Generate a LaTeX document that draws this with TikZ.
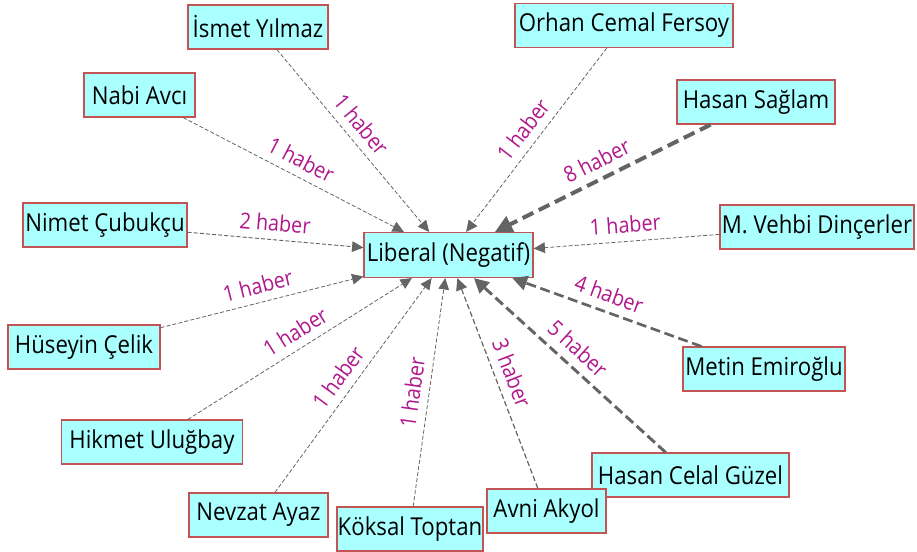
\documentclass[tikz,border=0pt]{standalone}
\usepackage{fontspec}
\setmainfont{Open Sans}[FakeStretch=0.9]
\usetikzlibrary{arrows.meta}
\definecolor{boxfill}{RGB}{170,255,255}
\definecolor{boxline}{RGB}{196,84,84}
\definecolor{edgegrey}{RGB}{100,100,100}
\definecolor{lblmag}{RGB}{176,24,140}
\begin{document}
\begin{tikzpicture}[x=0.75pt,y=-0.75pt,
  person/.style={draw=boxline, line width=0.9pt, fill=boxfill, inner sep=0pt,
    minimum height=33pt, font=\fontsize{18.5}{20}\selectfont, text=black},
  link/.style={draw=edgegrey},
  e1/.style={link, line width=0.6pt, dash pattern=on 3pt off 1.6pt,
    -{Triangle[length=8.5pt,width=8pt]}},
  e2/.style={link, line width=0.7pt, dash pattern=on 3pt off 1.6pt,
    -{Triangle[length=8.5pt,width=8pt]}},
  e3/.style={link, line width=0.9pt, dash pattern=on 4pt off 2pt,
    -{Triangle[length=9pt,width=8.5pt]}},
  e4/.style={link, line width=2pt, dash pattern=on 7.5pt off 3.5pt,
    -{Triangle[length=11pt,width=11pt]}},
  e5/.style={link, line width=2.2pt, dash pattern=on 7.5pt off 3.5pt,
    -{Triangle[length=11pt,width=11pt]}},
  e8/.style={link, line width=3pt, dash pattern=on 9pt off 4.5pt,
    -{Triangle[length=13pt,width=13pt]}},
  lbl/.style={text=lblmag, font=\fontsize{16.5}{17}\selectfont, sloped,
    above=4.5pt, inner sep=1.5pt}
]
\useasboundingbox (0,0) rectangle (917,551);

% centre node
\node[person, minimum width=126.75pt, minimum height=33.75pt] (lib) at (448.5,255) {Liberal (Negatif)};

% surrounding people
\node[person, minimum width=105pt]    (ismet)   at (258,27)    {İsmet Yılmaz};
\node[person, minimum width=163.5pt]  (orhan)   at (624,25.5)  {Orhan Cemal Fersoy};
\node[person, minimum width=83.25pt]  (nabi)    at (139.5,95)  {Nabi Avcı};
\node[person, minimum width=118.5pt]  (saglam)  at (756,102)   {Hasan Sağlam};
\node[person, minimum width=123pt]    (nimet)   at (105,225)   {Nimet Çubukçu};
\node[person, minimum width=145.5pt]  (vehbi)   at (817,227)   {M. Vehbi Dinçerler};
\node[person, minimum width=114pt]    (huseyin) at (84,347)    {Hüseyin Çelik};
\node[person, minimum width=121.5pt]  (metin)   at (764,369)   {Metin Emiroğlu};
\node[person, minimum width=135.75pt] (hikmet)  at (152,442)   {Hikmet Uluğbay};
\node[person, minimum width=147.75pt] (celal)   at (690.5,475) {Hasan Celal Güzel};
\node[person, minimum width=89.25pt]  (avni)    at (546.5,511) {Avni Akyol};
\node[person, minimum width=104.25pt] (nevzat)  at (258.5,515) {Nevzat Ayaz};
\node[person, minimum width=109.5pt]  (koksal)  at (410,529)   {Köksal Toptan};

% links towards the centre
\draw[e1] (ismet)   -- node[lbl, pos=0.47] {1 haber} (lib);
\draw[e1] (orhan)   -- node[lbl, pos=0.50] {1 haber} (lib);
\draw[e1] (nabi)    -- node[lbl, pos=0.50] {1 haber} (lib);
\draw[e8] (saglam)  -- node[lbl, pos=0.49] {8 haber} (lib);
\draw[e2] (nimet)   -- node[lbl, pos=0.49] {2 haber} (lib);
\draw[e1] (vehbi)   -- node[lbl, pos=0.50] {1 haber} (lib);
\draw[e1] (huseyin) -- node[lbl, pos=0.50] {1 haber} (lib);
\draw[e4] (metin)   -- node[lbl, pos=0.52] {4 haber} (lib);
\draw[e1] (hikmet)  -- node[lbl, pos=0.52] {1 haber} (lib);
\draw[e5] (celal)   -- node[lbl, pos=0.52] {5 haber} (lib);
\draw[e1] (nevzat)  -- node[lbl, pos=0.49] {1 haber} (lib);
\draw[e1] (koksal)  -- node[lbl, pos=0.49] {1 haber} (lib);
\draw[e3] (avni)    -- node[lbl, pos=0.52] {3 haber} (lib);
\end{tikzpicture}
\end{document}
